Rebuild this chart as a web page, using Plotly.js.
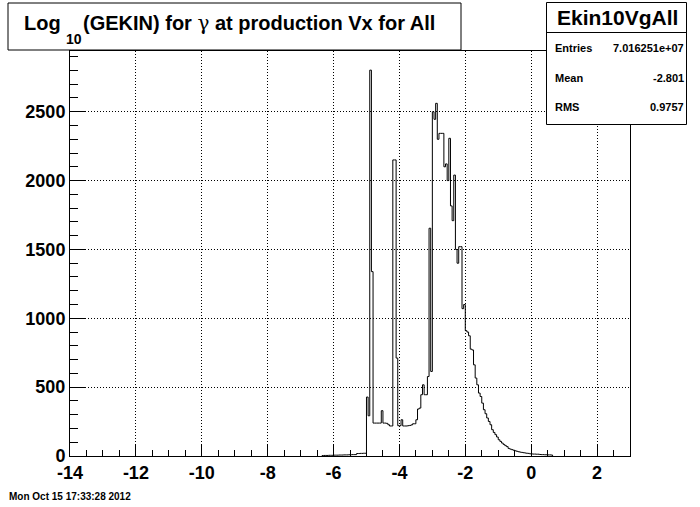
<!DOCTYPE html>
<html><head><meta charset="utf-8">
<script src="https://cdn.plot.ly/plotly-3.0.1.min.js"></script>
<style>html,body{margin:0;padding:0;background:#fff;}#chart{width:700px;height:507px;}</style>
</head><body><div id="chart"></div>
<script>
// ---- data ----
const binStart = -6.35;   // low edge of first listed bin
const binWidth = 0.05;
const counts = [
  3,4,4,4,5,5,5,6,6,6,7,7,7,8,8,8,9,9,10,10,10,      // -6.35 .. -5.35
  18,18,19,19,20,20,                                 // -5.30 .. -5.05
  428,292,2802,1339,                                 // -5.00 .. -4.85
  239,239,239,239,239,329,239,239,237,227,218,218,   // -4.80 .. -4.25
  2150,2150,711,220,220,263,218,218,218,220,222,226, // -4.20 .. -3.65
  234,234,263,341,348,445,517,445,445,577,1654,614,  // -3.60 .. -3.05
  2500,2445,2561,2300,2343,2343,2343,2100,2121,2000, // -3.00 .. -2.55
  2307,1816,1709,2040,1500,1400,1520,1520,1070,1100, // -2.50 .. -2.05
  910,900,873,776,770,662,566,517,457,432,           // -2.00 .. -1.55
  384,336,307,276,251,227,191,171,155,138,           // -1.50 .. -1.05
  118,106,94,84,75,68,55,50,46,42,                   // -1.00 .. -0.55
  38,34,31,28,26,24,22,20,19,16,                     // -0.50 .. -0.05
  15,14,14,13,13,11,10,10,9,9,8,8,7                  //  0.00 ..  0.60
];
const xTickVals = [-14,-12,-10,-8,-6,-4,-2,0,2];
const xTickText = ['-14','-12','-10','-8','-6','-4','-2','0','2'];
const yTickVals = [0,500,1000,1500,2000,2500];
const yTickText = ['0','500','1000','1500','2000','2500'];
const titleParts = ['Log', '10', '(GEKIN) for <span style="font-family:\'DejaVu Serif\';font-weight:normal">γ</span> at production Vx for All'];
const statsName = 'Ekin10VgAll';
const statsLabels = ['Entries','Mean','RMS'];
const statsValues = ['7.016251e+07','-2.801','0.9757'];
const dateText = 'Mon Oct 15 17:33:28 2012';

// ---- build step outline from bins ----
const xs = [binStart], ys = [0];
for (let i = 0; i < counts.length; i++) { xs.push(binStart + i*binWidth); ys.push(counts[i]); }
const xEnd = binStart + counts.length*binWidth;
xs.push(xEnd); ys.push(counts[counts.length-1]);
xs.push(xEnd); ys.push(0);

const FONT = 'Liberation Sans, Arial, Helvetica, sans-serif';
const W = 700, H = 507, L = 70, R = 70, T = 51, B = 51;
const pw = W - L - R, ph = H - T - B;
const px = v => (v - L) / pw;          // pixel -> paper x
const py = v => (H - B - v) / ph;      // pixel -> paper y

const ann = (text, x, y, xa, size, extra) => Object.assign({text, xref:'paper', yref:'paper', x: px(x), y: py(y),
  xanchor: xa, yanchor:'middle', showarrow:false, font:{family:FONT, size, weight:'bold', color:'#000'}}, extra || {});

const annotations = [
  ann(titleParts[0], 63, 23, 'right', 20),
  ann(titleParts[1], 64, 39, 'left', 14),
  ann(titleParts[2], 81, 23, 'left', 20),
  ann(statsName, 617, 17.5, 'center', 21),
  ann(dateText, 7, 496, 'left', 10)
];
const rowY = [47.5, 77.5, 107];
statsLabels.forEach((lab, i) => {
  annotations.push(ann(lab, 553, rowY[i], 'left', 11));
  annotations.push(ann(statsValues[i], 686, rowY[i], 'right', 11));
});

const shapes = [
  {type:'rect', xref:'paper', yref:'paper', x0: px(8), x1: px(461), y0: py(50), y1: py(3),
   line:{color:'#000', width:1}, fillcolor:'#fff', layer:'above'},
  {type:'rect', xref:'paper', yref:'paper', x0: px(546.5), x1: px(686.5), y0: py(124.5), y1: py(2.5),
   line:{color:'#000', width:1}, fillcolor:'#fff', layer:'above'},
  {type:'line', xref:'paper', yref:'paper', x0: px(546.5), x1: px(686.5), y0: py(32.5), y1: py(32.5),
   line:{color:'#000', width:1}, layer:'above'}
];

const trace = {x: xs, y: ys, type:'scatter', mode:'lines', line:{shape:'hv', color:'#000', width:1},
  hoverinfo:'skip', showlegend:false};

const axisCommon = {showline:true, linecolor:'#000', linewidth:1, mirror:true, zeroline:false,
  ticks:'inside', tickcolor:'#000', tickwidth:1, showgrid:true, gridcolor:'#000', gridwidth:1, griddash:'1px,2px',
  tickfont:{family:FONT, size:18, weight:'bold', color:'#000'}};

const layout = {
  width: W, height: H, margin:{l:L, r:R, t:T, b:B, pad:0},
  paper_bgcolor:'#fff', plot_bgcolor:'#fff', showlegend:false,
  xaxis: Object.assign({}, axisCommon, {range:[-14,3], tickmode:'array', tickvals:xTickVals, ticktext:xTickText,
    ticklen:12, minor:{dtick:0.5, tick0:-14, ticks:'inside', ticklen:6, tickcolor:'#000', showgrid:false}}),
  yaxis: Object.assign({}, axisCommon, {range:[0,2941], tickmode:'array', tickvals:yTickVals, ticktext:yTickText,
    ticklen:16, minor:{dtick:100, tick0:0, ticks:'inside', ticklen:8, tickcolor:'#000', showgrid:false}}),
  annotations: annotations, shapes: shapes
};

Plotly.newPlot('chart', [trace], layout, {staticPlot:true, displayModeBar:false});
</script>
</body></html>
